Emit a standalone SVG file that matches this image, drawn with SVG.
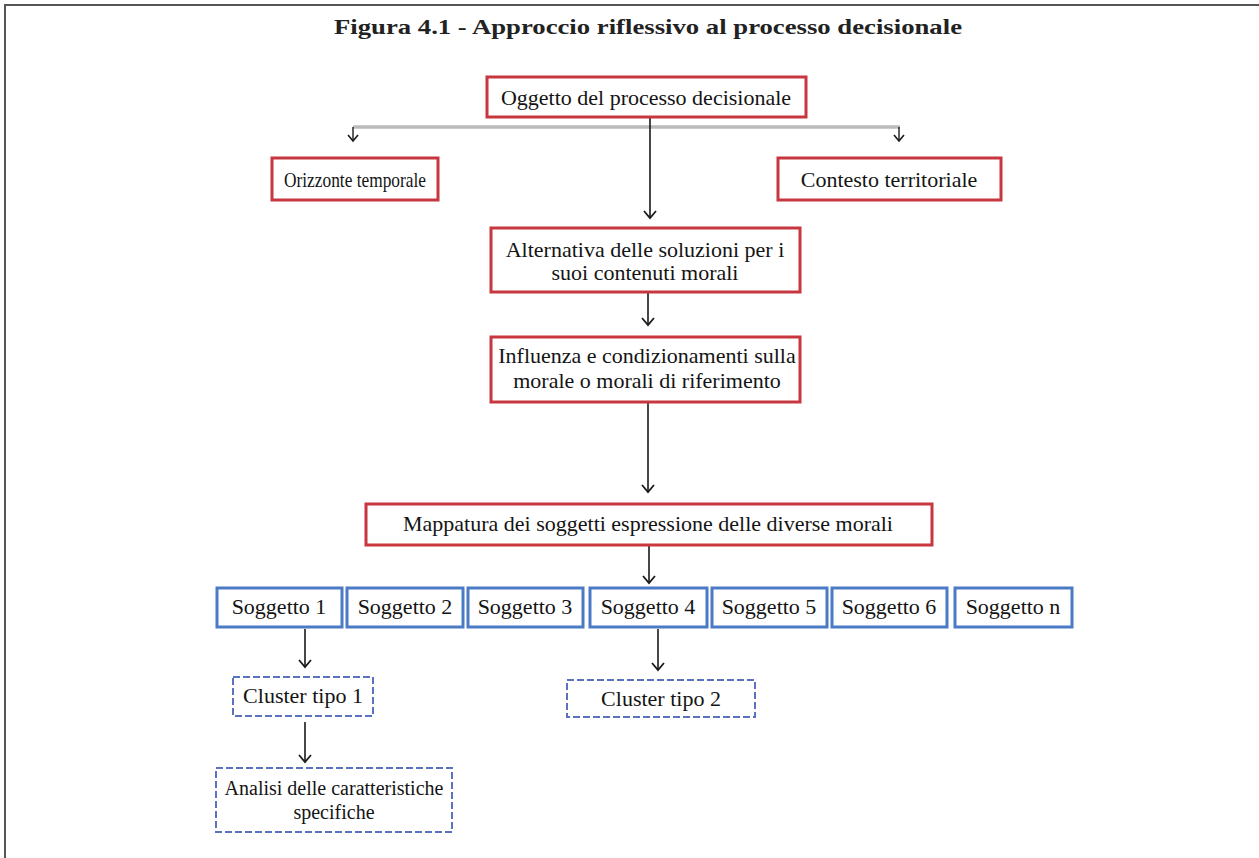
<svg xmlns="http://www.w3.org/2000/svg" width="1259" height="858" viewBox="0 0 1259 858">
  <style>
    .t { font-family: "Liberation Serif", "Times New Roman", serif; font-size: 22px; fill: #141414; text-anchor: middle; }
    .title { font-family: "Liberation Serif", "Times New Roman", serif; font-size: 22px; font-weight: bold; fill: #222; text-anchor: middle; }
    .red { fill: #ffffff; stroke: #c8363f; stroke-width: 3; }
    .blue { fill: #ffffff; stroke: #4a7bc4; stroke-width: 3; }
    .dash { fill: #ffffff; stroke: #5a72c0; stroke-width: 2; stroke-dasharray: 7 3; }
    .arr { stroke: #1a1a1a; stroke-width: 1.6; fill: none; marker-end: url(#chev); }
    .arrs { stroke: #1a1a1a; stroke-width: 1.4; fill: none; marker-end: url(#chevs); }
  </style>
  <defs>
    <marker id="chev" markerUnits="userSpaceOnUse" markerWidth="16" markerHeight="16" viewBox="-8 -8 16 16" refX="0" refY="0" orient="auto">
      <path d="M-7,-6 L0,0 L-7,6" fill="none" stroke="#1a1a1a" stroke-width="1.8"/>
    </marker>
    <marker id="chevs" markerUnits="userSpaceOnUse" markerWidth="14" markerHeight="14" viewBox="-7 -7 14 14" refX="0" refY="0" orient="auto">
      <path d="M-6,-5 L0,0 L-6,5" fill="none" stroke="#1a1a1a" stroke-width="1.6"/>
    </marker>
  </defs>

  <rect x="0" y="0" width="1259" height="858" fill="#ffffff"/>
  <!-- frame: top rule and left rule -->
  <path d="M5,858 L5,5 L1259,5" fill="none" stroke="#555" stroke-width="2"/>

  <text class="title" x="648" y="34" textLength="628" lengthAdjust="spacingAndGlyphs">Figura 4.1 - Approccio riflessivo al processo decisionale</text>

  <g id="connectors">
    <!-- branch to the two side boxes -->
    <line x1="353" y1="127" x2="900" y2="127" stroke="#9a9a9a" stroke-width="3"/>
    <line x1="353" y1="127" x2="900" y2="127" stroke="#dcdcdc" stroke-width="1"/>
    <path class="arrs" d="M353,127 L353,141"/>
    <path class="arrs" d="M899,127 L899,141"/>
    <!-- main chain -->
    <path class="arr" d="M650,117 L650,218"/>
    <path class="arr" d="M648,293 L648,325"/>
    <path class="arr" d="M648,402 L648,492"/>
    <path class="arr" d="M649,546 L649,583"/>
    <!-- subjects to clusters -->
    <path class="arr" d="M305,629 L305,667"/>
    <path class="arr" d="M305,722 L305,762"/>
    <path class="arr" d="M658,629 L658,670"/>
  </g>

  <g id="oggetto">
    <rect class="red" x="487" y="77" width="319" height="40"/>
    <text class="t" x="646" y="105">Oggetto del processo decisionale</text>
  </g>
  <g id="orizzonte">
    <rect class="red" x="272" y="158" width="166" height="42"/>
    <text class="t" x="355" y="187" style="font-size:21px" textLength="142" lengthAdjust="spacingAndGlyphs">Orizzonte temporale</text>
  </g>
  <g id="contesto">
    <rect class="red" x="778" y="158" width="223" height="42"/>
    <text class="t" x="889" y="187">Contesto territoriale</text>
  </g>
  <g id="alternativa">
    <rect class="red" x="491" y="228" width="309" height="64"/>
    <text class="t" x="645" y="257">Alternativa delle soluzioni per i</text>
    <text class="t" x="645" y="280">suoi contenuti morali</text>
  </g>
  <g id="influenza">
    <rect class="red" x="491" y="337" width="309" height="65"/>
    <text class="t" x="647" y="363">Influenza e condizionamenti sulla</text>
    <text class="t" x="647" y="388">morale o morali di riferimento</text>
  </g>
  <g id="mappatura">
    <rect class="red" x="366" y="504" width="566" height="41"/>
    <text class="t" x="648" y="531">Mappatura dei soggetti espressione delle diverse morali</text>
  </g>

  <g id="soggetto-1">
    <rect class="blue" x="217" y="588" width="125" height="39"/>
    <text class="t" x="279" y="614">Soggetto 1</text>
  </g>
  <g id="soggetto-2">
    <rect class="blue" x="347" y="588" width="116" height="39"/>
    <text class="t" x="405" y="614">Soggetto 2</text>
  </g>
  <g id="soggetto-3">
    <rect class="blue" x="468" y="588" width="115" height="39"/>
    <text class="t" x="525" y="614">Soggetto 3</text>
  </g>
  <g id="soggetto-4">
    <rect class="blue" x="590" y="588" width="117" height="39"/>
    <text class="t" x="648" y="614">Soggetto 4</text>
  </g>
  <g id="soggetto-5">
    <rect class="blue" x="712" y="588" width="115" height="39"/>
    <text class="t" x="769" y="614">Soggetto 5</text>
  </g>
  <g id="soggetto-6">
    <rect class="blue" x="832" y="588" width="115" height="39"/>
    <text class="t" x="889" y="614">Soggetto 6</text>
  </g>
  <g id="soggetto-n">
    <rect class="blue" x="955" y="588" width="117" height="39"/>
    <text class="t" x="1013" y="614">Soggetto n</text>
  </g>

  <g id="cluster-1">
    <rect class="dash" x="233" y="677" width="140" height="39"/>
    <text class="t" x="303" y="703">Cluster tipo 1</text>
  </g>
  <g id="cluster-2">
    <rect class="dash" x="567" y="680" width="188" height="37"/>
    <text class="t" x="661" y="706">Cluster tipo 2</text>
  </g>
  <g id="analisi">
    <rect class="dash" x="216" y="768" width="236" height="64"/>
    <text class="t" x="334" y="795" style="font-size:20px">Analisi delle caratteristiche</text>
    <text class="t" x="334" y="819" style="font-size:20px">specifiche</text>
  </g>
</svg>
